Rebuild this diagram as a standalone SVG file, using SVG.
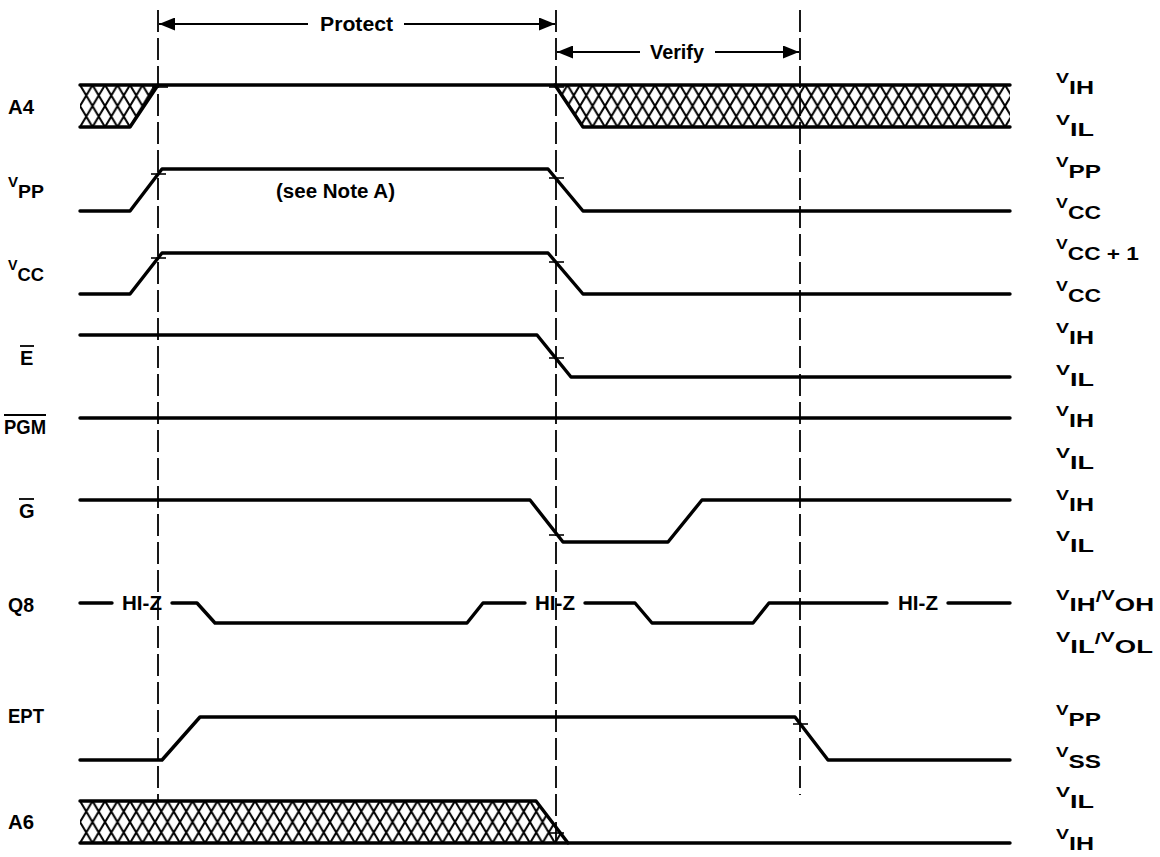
<svg xmlns="http://www.w3.org/2000/svg" width="1160" height="857" viewBox="0 0 1160 857">
<style>
  .sig{fill:none;stroke:#000;stroke-width:3.4;stroke-linejoin:round;stroke-linecap:round}
  .dash{fill:none;stroke:#000;stroke-width:1.8;stroke-dasharray:22 6}
  .tick{stroke:#000;stroke-width:1.6}
  .dim{stroke:#000;stroke-width:2}
  text{font-family:"Liberation Sans",Arial,sans-serif;font-weight:bold;fill:#000}
  .lbl{font-size:20px}
  .v{font-size:14px}
  .s{font-size:18px}
</style>
<defs>
  <pattern id="hatchA" patternUnits="userSpaceOnUse" x="80" y="85" width="12.5" height="21">
    <path d="M0,0 L12.5,21 M12.5,0 L0,21" stroke="#000" stroke-width="2"/>
  </pattern>
  <pattern id="hatchB" patternUnits="userSpaceOnUse" x="80" y="801" width="12.5" height="21">
    <path d="M0,0 L12.5,21 M12.5,0 L0,21" stroke="#000" stroke-width="2"/>
  </pattern>
  <marker id="ah" viewBox="0 0 16 13" refX="16" refY="6.5" markerWidth="16" markerHeight="13" markerUnits="userSpaceOnUse" orient="auto">
    <path d="M0,0 L16,6.5 L0,13 Z" fill="#000"/>
  </marker>
</defs>

<g id="guides">
  <line class="dash" x1="158" y1="10" x2="158" y2="801"/>
  <line class="dash" x1="556" y1="10" x2="556" y2="848"/>
  <line class="dash" x1="800" y1="10" x2="800" y2="795"/>
</g>

<g id="connectors">
  <line class="dim" x1="308" y1="24" x2="159" y2="24" marker-end="url(#ah)"/>
  <line class="dim" x1="404" y1="24" x2="555" y2="24" marker-end="url(#ah)"/>
  <line class="dim" x1="640" y1="52" x2="557" y2="52" marker-end="url(#ah)"/>
  <line class="dim" x1="715" y1="52" x2="799" y2="52" marker-end="url(#ah)"/>
</g>

<g id="dim-labels">
  <text class="lbl" x="320" y="31" textLength="73" lengthAdjust="spacingAndGlyphs">Protect</text>
  <text class="lbl" x="650" y="59" textLength="54" lengthAdjust="spacingAndGlyphs">Verify</text>
</g>

<g id="A4">
  <polygon points="80,85 158,85 130,127 80,127" fill="url(#hatchA)"/>
  <polygon points="555,85 1010,85 1010,127 583,127" fill="url(#hatchA)"/>
  <path class="sig" d="M80,85 H1010"/>
  <path class="sig" d="M80,127 H130 L158,85"/>
  <path class="sig" d="M555,85 L583,127 H1010"/>
  <line class="tick" x1="152" y1="87" x2="168" y2="87"/>
  <line class="tick" x1="549" y1="87" x2="564" y2="87"/>
  <text class="lbl" x="8" y="114" textLength="26" lengthAdjust="spacingAndGlyphs">A4</text>
  <text x="1056" y="83" textLength="38" lengthAdjust="spacingAndGlyphs"><tspan class="v">V</tspan><tspan class="s" y="94">IH</tspan></text>
  <text x="1056" y="125" textLength="38" lengthAdjust="spacingAndGlyphs"><tspan class="v">V</tspan><tspan class="s" y="136">IL</tspan></text>
</g>

<g id="VPP">
  <path class="sig" d="M80,211 H130 L162,169 H548 L583,211 H1010"/>
  <line class="tick" x1="151" y1="174" x2="166" y2="174"/>
  <line class="tick" x1="549" y1="178" x2="564" y2="178"/>
  <text x="8" y="187" textLength="36" lengthAdjust="spacingAndGlyphs"><tspan class="v">V</tspan><tspan class="s" y="198">PP</tspan></text>
  <text class="lbl" x="276" y="198" textLength="119" lengthAdjust="spacingAndGlyphs">(see Note A)</text>
  <text x="1056" y="167" textLength="45" lengthAdjust="spacingAndGlyphs"><tspan class="v">V</tspan><tspan class="s" y="178">PP</tspan></text>
  <text x="1056" y="208" textLength="45" lengthAdjust="spacingAndGlyphs"><tspan class="v">V</tspan><tspan class="s" y="219">CC</tspan></text>
</g>

<g id="VCC">
  <path class="sig" d="M80,294 H130 L162,253 H548 L583,294 H1010"/>
  <line class="tick" x1="151" y1="258" x2="166" y2="258"/>
  <line class="tick" x1="549" y1="262" x2="564" y2="262"/>
  <text x="8" y="270" textLength="36" lengthAdjust="spacingAndGlyphs"><tspan class="v">V</tspan><tspan class="s" y="281">CC</tspan></text>
  <text x="1056" y="249" textLength="83" lengthAdjust="spacingAndGlyphs"><tspan class="v">V</tspan><tspan class="s" y="260">CC + 1</tspan></text>
  <text x="1056" y="291" textLength="45" lengthAdjust="spacingAndGlyphs"><tspan class="v">V</tspan><tspan class="s" y="302">CC</tspan></text>
</g>

<g id="E">
  <path class="sig" d="M80,335 H537 L571,377 H1010"/>
  <line class="tick" x1="549" y1="358" x2="564" y2="358"/>
  <text class="lbl" x="20" y="365">E</text>
  <line x1="20" y1="346" x2="34" y2="346" stroke="#000" stroke-width="1.8"/>
  <text x="1056" y="333" textLength="38" lengthAdjust="spacingAndGlyphs"><tspan class="v">V</tspan><tspan class="s" y="344">IH</tspan></text>
  <text x="1056" y="375" textLength="38" lengthAdjust="spacingAndGlyphs"><tspan class="v">V</tspan><tspan class="s" y="386">IL</tspan></text>
</g>

<g id="PGM">
  <path class="sig" d="M80,418 H1010"/>
  <text class="lbl" x="4" y="434" textLength="42" lengthAdjust="spacingAndGlyphs">PGM</text>
  <line x1="4" y1="415" x2="46" y2="415" stroke="#000" stroke-width="1.8"/>
  <text x="1056" y="416" textLength="38" lengthAdjust="spacingAndGlyphs"><tspan class="v">V</tspan><tspan class="s" y="427">IH</tspan></text>
  <text x="1056" y="458" textLength="38" lengthAdjust="spacingAndGlyphs"><tspan class="v">V</tspan><tspan class="s" y="469">IL</tspan></text>
</g>

<g id="G">
  <path class="sig" d="M80,500 H530 L563,542 H668 L702,500 H1010"/>
  <line class="tick" x1="549" y1="535" x2="564" y2="535"/>
  <text class="lbl" x="19" y="518">G</text>
  <line x1="19" y1="499" x2="34" y2="499" stroke="#000" stroke-width="1.8"/>
  <text x="1056" y="500" textLength="38" lengthAdjust="spacingAndGlyphs"><tspan class="v">V</tspan><tspan class="s" y="511">IH</tspan></text>
  <text x="1056" y="541" textLength="38" lengthAdjust="spacingAndGlyphs"><tspan class="v">V</tspan><tspan class="s" y="552">IL</tspan></text>
</g>

<g id="Q8">
  <path class="sig" d="M80,603 H112 M172,603 H197 L215,623 H467 L483,603 H525 M585,603 H635 L652,623 H753 L769,603 H887 M948,603 H1010"/>
  <text class="lbl" x="122" y="610" textLength="40" lengthAdjust="spacingAndGlyphs">HI-Z</text>
  <text class="lbl" x="535" y="610" textLength="40" lengthAdjust="spacingAndGlyphs">HI-Z</text>
  <text class="lbl" x="898" y="610" textLength="40" lengthAdjust="spacingAndGlyphs">HI-Z</text>
  <text class="lbl" x="8" y="612" textLength="26" lengthAdjust="spacingAndGlyphs">Q8</text>
  <text x="1056" y="600" textLength="98" lengthAdjust="spacingAndGlyphs"><tspan class="v">V</tspan><tspan class="s" y="611">IH</tspan><tspan class="v" y="602">/</tspan><tspan class="v" y="600">V</tspan><tspan class="s" y="611">OH</tspan></text>
  <text x="1056" y="642" textLength="97" lengthAdjust="spacingAndGlyphs"><tspan class="v">V</tspan><tspan class="s" y="653">IL</tspan><tspan class="v" y="644">/</tspan><tspan class="v" y="642">V</tspan><tspan class="s" y="653">OL</tspan></text>
</g>

<g id="EPT">
  <path class="sig" d="M80,760 H162 L200,717 H795 L828,760 H1010"/>
  <line class="tick" x1="793" y1="724" x2="808" y2="724"/>
  <text class="lbl" x="8" y="723" textLength="36" lengthAdjust="spacingAndGlyphs">EPT</text>
  <text x="1056" y="715" textLength="45" lengthAdjust="spacingAndGlyphs"><tspan class="v">V</tspan><tspan class="s" y="726">PP</tspan></text>
  <text x="1056" y="757" textLength="45" lengthAdjust="spacingAndGlyphs"><tspan class="v">V</tspan><tspan class="s" y="768">SS</tspan></text>
</g>

<g id="A6">
  <polygon points="80,801 536,801 568,843 80,843" fill="url(#hatchB)"/>
  <path class="sig" d="M80,801 H536 L568,843"/>
  <path class="sig" d="M80,843 H1010"/>
  <line class="tick" x1="549" y1="833" x2="564" y2="833"/>
  <text class="lbl" x="8" y="829" textLength="26" lengthAdjust="spacingAndGlyphs">A6</text>
  <text x="1056" y="797" textLength="38" lengthAdjust="spacingAndGlyphs"><tspan class="v">V</tspan><tspan class="s" y="808">IL</tspan></text>
  <text x="1056" y="839" textLength="38" lengthAdjust="spacingAndGlyphs"><tspan class="v">V</tspan><tspan class="s" y="850">IH</tspan></text>
</g>
</svg>
